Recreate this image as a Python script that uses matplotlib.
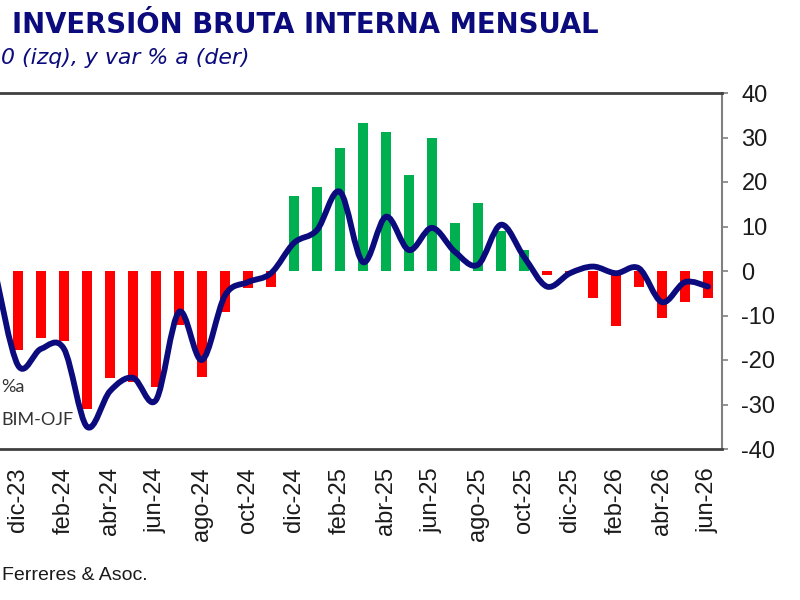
import matplotlib
matplotlib.use("Agg")
import matplotlib.pyplot as plt
import numpy as np
from matplotlib.path import Path
from matplotlib.patches import PathPatch

plt.rcParams["axes.unicode_minus"] = False

# months from dic-23 to jun-26
months = ["dic-23", "ene-24", "feb-24", "mar-24", "abr-24", "may-24", "jun-24",
          "jul-24", "ago-24", "sep-24", "oct-24", "nov-24", "dic-24", "ene-25",
          "feb-25", "mar-25", "abr-25", "may-25", "jun-25", "jul-25", "ago-25",
          "sep-25", "oct-25", "nov-25", "dic-25", "ene-26", "feb-26", "mar-26",
          "abr-26", "may-26", "jun-26"]

# var % a (bars)
var_pct = [-17.8, -15.1, -15.8, -31.1, -24.1, -25.0, -26.0, -12.2, -23.8, -9.2,
           -3.9, -3.6, 16.9, 18.9, 27.7, 33.3, 31.3, 21.6, 29.9, 10.8, 15.3, 9.0,
           4.7, -0.8, -0.5, -6.1, -12.4, -3.6, -10.6, -7.0, -6.1]

# BIM-OJF line (first value is nov-23, just off the left edge)
line_start = -1
bim_ojf = [0.0, -21.2, -17.5, -17.5, -35.0, -27.0, -24.0, -29.0, -9.2, -20.0, -5.5,
           -2.5, -0.5, 6.3, 9.2, 17.8, 2.0, 12.2, 4.7, 9.7, 4.3, 1.4, 10.4, 3.2,
           -3.5, -0.5, 1.0, -0.5, 0.6, -7.0, -2.5, -3.5]

navy = "#0b0b7d"

fig = plt.figure(figsize=(8, 6), dpi=100)
ax = fig.add_axes([-100 / 800, 1 - 449 / 600, 822 / 800, 356 / 600])

x = np.arange(len(months))
colors = ["#00b050" if v >= 0 else "#ff0000" for v in var_pct]
ax.bar(x, var_pct, width=0.43, color=colors, zorder=2)

# smoothed line (Catmull-Rom as cubic Bezier, like Excel's smoothed line)
lx = np.arange(len(bim_ojf)) + line_start
pts = np.column_stack([lx, bim_ojf])
verts = [tuple(pts[0])]
codes = [Path.MOVETO]
n = len(pts)
for i in range(n - 1):
    p0 = pts[max(i - 1, 0)]
    p1 = pts[i]
    p2 = pts[i + 1]
    p3 = pts[min(i + 2, n - 1)]
    c1 = p1 + (p2 - p0) / 6
    c2 = p2 - (p3 - p1) / 6
    verts += [tuple(c1), tuple(c2), tuple(p2)]
    codes += [Path.CURVE4] * 3
ax.add_patch(PathPatch(Path(verts, codes), facecolor="none", edgecolor=navy,
                       lw=4.2, capstyle="round", joinstyle="round", zorder=3))

ax.set_xlim(-5.13, 30.61)
ax.set_ylim(-40, 40)

ax.yaxis.tick_right()
ax.set_yticks(range(-40, 41, 10))
ax.tick_params(axis="y", length=4, width=1.2, color="#808080", pad=10,
               labelsize=17, labelcolor="#1a1a1a")
ax.set_xticks(x[::2])
ax.set_xticklabels(months[::2], rotation=90, fontsize=17, color="#1a1a1a")
ax.tick_params(axis="x", length=0, pad=13)
for lab in ax.get_xticklabels() + ax.get_yticklabels():
    lab.set_fontfamily("Liberation Sans")

ax.spines["left"].set_visible(False)
ax.spines["top"].set_color("#404040")
ax.spines["top"].set_linewidth(2)
ax.spines["bottom"].set_color("#404040")
ax.spines["bottom"].set_linewidth(2)
ax.spines["right"].set_color("#808080")
ax.spines["right"].set_linewidth(1.5)

# texts
fig.text(12 / 800, 1 - 25 / 600, "INVERSIÓN BRUTA INTERNA MENSUAL", color=navy,
         fontsize=19.8, fontweight="bold", family="DejaVu Sans", va="center")
fig.text(1 / 800, 1 - 58 / 600, "0 (izq), y var % a (der)", color=navy,
         fontsize=15.8, style="italic", family="DejaVu Sans", va="center")
fig.text(1 / 800, 1 - 387 / 600, "%a", color="#333333", fontsize=13,
         family="Lato", ha="left", va="center")
fig.text(1 / 800, 1 - 420 / 600, "BIM-OJF", color="#333333", fontsize=13,
         family="Lato", ha="left", va="center")
fig.text(2 / 800, 1 - 576 / 600, "Ferreres & Asoc.", color="#1a1a1a", fontsize=14,
         family="Liberation Sans", ha="left", va="center")

fig.savefig("out.png", dpi=100)
